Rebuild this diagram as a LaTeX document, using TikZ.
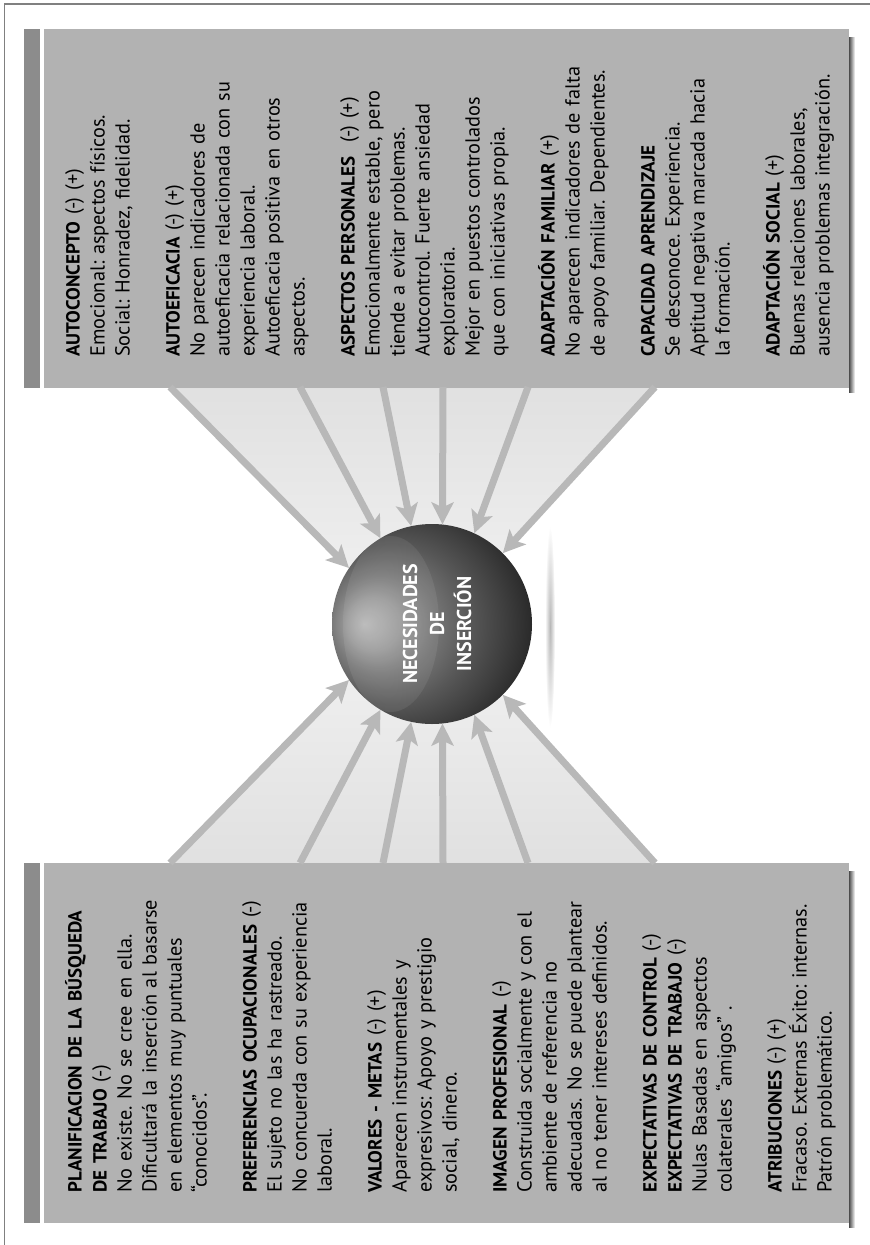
\documentclass[tikz,border=0pt]{standalone}
\usepackage{fontspec}
\setmainfont{PT Sans}
\usepackage{xcolor}
\usepackage{tikz}
\usetikzlibrary{arrows.meta,positioning,calc,backgrounds}
\frenchspacing

\newcommand{\paneltitle}[1]{{\fontsize{19}{25}\selectfont\bfseries #1}}

\pgfdeclareradialshading{sphereshade}{\pgfpoint{-17bp}{0bp}}{color(0bp)=(black!28); color(6bp)=(black!38); color(12bp)=(black!52); color(20bp)=(black!66); color(26bp)=(black!75); color(31bp)=(black!83); color(50bp)=(black!83)}

\tikzset{
  frameline/.style={draw=black!50, line width=1.5pt},
  infobox/.style={fill=black!30, inner sep=0, anchor=north west},
  sidebar/.style={fill=black!45, inner sep=0, minimum width=16},
  infotext/.style={rotate=90, anchor=north west, inner sep=0, text width=330pt, align=left, font=\fontsize{20.3}{25}\selectfont},
  boxshadow/.style={left color=black!70, right color=white},
  feed/.style={draw=black!28, line width=7pt, -{Stealth[length=22pt,width=22pt,inset=5pt]}},
}

\begin{document}
\begin{tikzpicture}[x=1pt,y=-1pt]
\useasboundingbox (0,0) rectangle (870,1245);
\draw[frameline] (870,4) -- (4.5,4) -- (4.5,1245);

\node[infobox, minimum width=805, minimum height=359] (topbox) at (44,29) {};
\node[sidebar, minimum height=359, left=4pt of topbox] (topbar) {};
\shade[boxshadow] (849,37) rectangle (855,392);
\node[infotext] (toptext) at (65,357) {%
\paneltitle{AUTOCONCEPTO} (-) (+)\\
Emocional: aspectos físicos.\\
Social: Honradez, fidelidad.\\[25pt]
\paneltitle{AUTOEFICACIA} (-) (+)\\
No parecen indicadores de\\
autoeficacia relacionada con su\\
experiencia laboral.\\
Autoeficacia positiva en otros\\
aspectos.\\[25pt]
\paneltitle{ASPECTOS PERSONALES}\ \ (-) (+)\\
Emocionalmente estable, pero\\
tiende a evitar problemas.\\
Autocontrol. Fuerte ansiedad\\
exploratoria.\\
Mejor en puestos controlados\\
que con iniciativas propia.\\[25pt]
\paneltitle{ADAPTACIÓN FAMILIAR} (+)\\
No aparecen indicadores de falta\\
de apoyo familiar. Dependientes.\\[25pt]
\paneltitle{CAPACIDAD APRENDIZAJE}\\
Se desconoce. Experiencia.\\
Aptitud negativa marcada hacia\\
la formación.\\[25pt]
\paneltitle{ADAPTACIÓN SOCIAL} (+)\\
Buenas relaciones laborales,\\
ausencia problemas integración.};

\node[infobox, minimum width=805, minimum height=360] (lowbox) at (44,863) {};
\node[sidebar, minimum height=360, left=4pt of lowbox] (lowbar) {};
\shade[boxshadow] (849,871) rectangle (855,1227);
\node[infotext] (lowtext) at (65,1193) {%
\paneltitle{PLANIFICACION DE LA BÚSQUEDA}\\
\paneltitle{DE TRABAJO} (-)\\
No existe. No se cree en ella.\\
Dificultará la inserción al basarse\\
en elementos muy puntuales\\
“conocidos”.\\[25pt]
\paneltitle{PREFERENCIAS OCUPACIONALES} (-)\\
El sujeto no las ha rastreado.\\
No concuerda con su experiencia\\
laboral.\\[25pt]
\paneltitle{VALORES - METAS} (-) (+)\\
Aparecen instrumentales y\\
expresivos: Apoyo y prestigio\\
social, dinero.\\[25pt]
\paneltitle{IMAGEN PROFESIONAL} (-)\\
Construida socialmente y con el\\
ambiente de referencia no\\
adecuadas. No se puede plantear\\
al no tener intereses definidos.\\[25pt]
\paneltitle{EXPECTATIVAS DE CONTROL} (-)\\
\paneltitle{EXPECTATIVAS DE TRABAJO} (-)\\
Nulas Basadas en aspectos\\
colaterales “amigos” .\\[25pt]
\paneltitle{ATRIBUCIONES} (-) (+)\\
Fracaso. Externas Éxito: internas.\\
Patrón problemático.};

\node[circle, minimum size=200, inner sep=0, shade, shading=sphereshade] (hub) at (432,624) {};
\fill[white, opacity=0.07] (391,624) ellipse (48 and 88);
\node[rotate=90, text=white, align=center, inner sep=0, font=\bfseries\fontsize{20}{27}\selectfont] (hublabel) at (437,624) {NECESIDADES\\DE\\INSERCIÓN};
\shade[inner color=black!28, outer color=white] (550,627) ellipse (5 and 101);

\foreach \n/\x in {1/170,2/300,3/383,4/443,5/528,6/655} {
  \coordinate (up\n) at (\x,387);
  \coordinate (dn\n) at (\x,863);
}

\begin{scope}[on background layer]
\shade[top color=black!12, bottom color=black!5] (up1) -- (up6) -- (hub.45) -- (hub.center) -- (hub.146) -- cycle;
\shade[top color=black!5, bottom color=black!12] (dn1) -- (dn6) -- (hub.315) -- (hub.center) -- (hub.214) -- cycle;
\end{scope}

\foreach \n/\a in {1/146,2/121,3/102,4/84,5/65,6/45}
  \draw[feed] (up\n) -- (hub.\a);
\foreach \n/\a in {1/214,2/239,3/258,4/276,5/295,6/315}
  \draw[feed] (dn\n) -- (hub.\a);
\end{tikzpicture}
\end{document}
